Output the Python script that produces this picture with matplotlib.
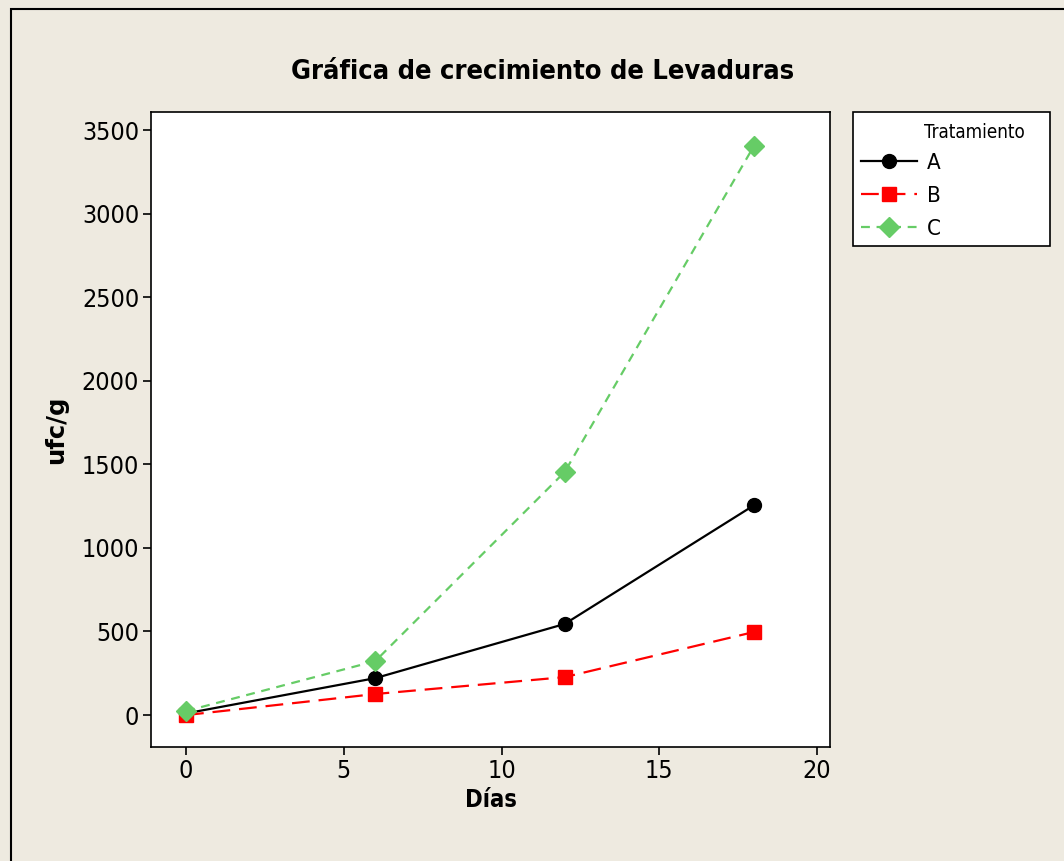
import matplotlib
matplotlib.use("Agg")
import matplotlib.pyplot as plt
from matplotlib.patches import Rectangle

dias = [0, 6, 12, 18]
trat_a = [10, 221, 545, 1255]
trat_b = [0, 126, 227, 497]
trat_c = [24, 323, 1454, 3405]
series_names = ["A", "B", "C"]
xticks = [0, 5, 10, 15, 20]
yticks = [0, 500, 1000, 1500, 2000, 2500, 3000, 3500]

FONT = dict(family="DejaVu Sans", stretch="condensed")
BG = "#EEEAE0"

fig = plt.figure(figsize=(10.64, 8.61), dpi=100, facecolor=BG)
W, H = 1064, 861
# outer frame
fig.patches.append(Rectangle((11 / W, -0.2), 1.2, 1.2 - 9 / H, transform=fig.transFigure,
                             fill=False, edgecolor="black", linewidth=1.5, zorder=-2))

ax = fig.add_axes([151 / W, 1 - 747 / H, (830 - 151) / W, (747 - 112) / H])
ax.set_facecolor("white")

ax.plot(dias, trat_a, color="black", linestyle="-", linewidth=1.6, marker="o",
        markersize=10, label=series_names[0], zorder=3)
ax.plot(dias, trat_b, color="#FF0000", linestyle=(0, (8, 4)), linewidth=1.6, marker="s",
        markersize=10, label=series_names[1], zorder=3)
ax.plot(dias, trat_c, color="#66CC66", linestyle=(0, (4, 3)), linewidth=1.6, marker="D",
        markersize=10, label=series_names[2], zorder=4)

ax.set_xlim(-1.11, 20.41)
ax.set_ylim(-191, 3608)
ax.set_xticks(xticks)
ax.set_yticks(yticks)
ax.tick_params(direction="out", length=6, width=1.2, pad=2.5, labelsize=18, colors="black")
for lab in ax.get_xticklabels() + ax.get_yticklabels():
    lab.set_fontstretch("condensed")
for s in ax.spines.values():
    s.set_linewidth(1.2)

ax.set_xlabel("Días", fontsize=17, fontweight="bold", labelpad=4, **FONT)
ax.set_ylabel("ufc/g", fontsize=17.5, fontweight="bold", labelpad=10, family="DejaVu Sans")
fig.text((290 + 795) / 2 / W, 1 - 72 / H, "Gráfica de crecimiento de Levaduras",
         ha="center", va="center", fontsize=19.5, fontweight="bold", **FONT)

# legend frame + title drawn separately, entries via ax.legend
fig.patches.append(Rectangle((853 / W, 1 - 246 / H), (1050 - 853) / W, (246 - 112) / H,
                             transform=fig.transFigure, facecolor="white",
                             edgecolor="black", linewidth=1.2, zorder=-1))
fig.text(1025 / W, 1 - 133 / H, "Tratamiento", ha="right", va="center",
         fontsize=13.5, **FONT)
leg = ax.legend(loc="upper left", bbox_to_anchor=(861 / W, 1 - 153 / H),
                bbox_transform=fig.transFigure, frameon=False, fontsize=16,
                borderpad=0, labelspacing=0.58, handlelength=2.5,
                handletextpad=0.45, borderaxespad=0)
for t in leg.get_texts():
    t.set_fontstretch("condensed")

fig.savefig("out.png", dpi=100, facecolor=BG)
